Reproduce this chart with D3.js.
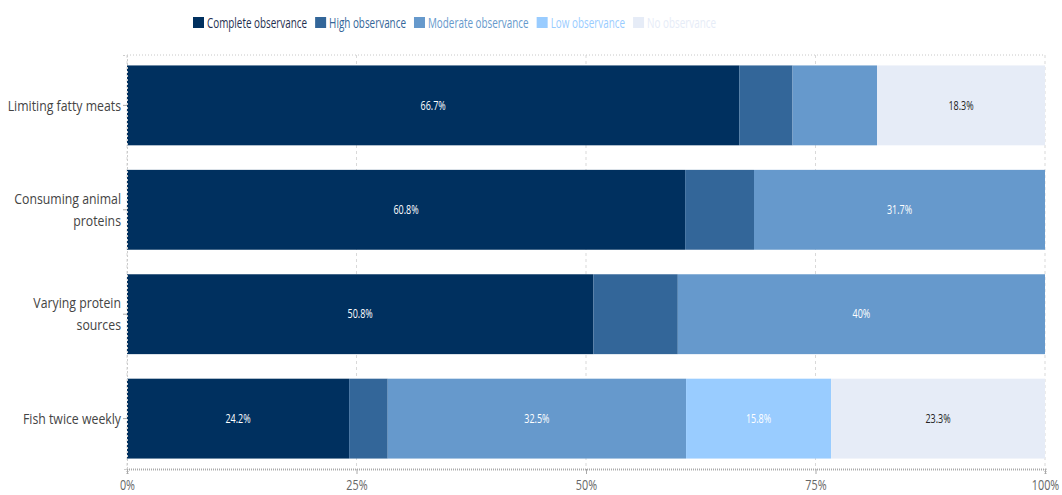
<!DOCTYPE html>
<html>
<head>
<meta charset="utf-8">
<script src="https://cdn.jsdelivr.net/npm/d3@7"></script>
<style>
  body { margin: 0; background: #fff; }
  text { font-family: "Open Sans", sans-serif; }
</style>
</head>
<body>
<div id="chart"></div>
<script>
// categories, top to bottom
var practices = ["Limiting fatty meats", "Consuming animal proteins", "Varying protein sources", "Fish twice weekly"];
var practiceLines = [["Limiting fatty meats"], ["Consuming animal", "proteins"], ["Varying protein", "sources"], ["Fish twice weekly"]];

var levels = ["Complete observance", "High observance", "Moderate observance", "Low observance", "No observance"];
var levelColors = ["#00305f", "#336699", "#6699cc", "#99ccff", "#e6ecf7"];
var labelColors = ["#fff", "#fff", "#fff", "#fff", "#222"];

// percentages per level (same order as practices)
var complete = [66.7, 60.8, 50.8, 24.2];
var high     = [5.8, 7.5, 9.2, 4.2];
var moderate = [9.2, 31.7, 40, 32.5];
var low      = [0, 0, 0, 15.8];
var none     = [18.3, 0, 0, 23.3];

var xTicks = [0, 25, 50, 75, 100];

var margin = { top: 55, right: 17, bottom: 26, left: 127 },
    width = 1062 - margin.left - margin.right,
    height = 495 - margin.top - margin.bottom;

// squeeze text horizontally around its x, the source font is a narrow one
function condense(sel, f) {
    sel.each(function () {
        var x0 = +this.getAttribute("x") || 0;
        d3.select(this).attr("transform",
            "translate(" + x0 + ",0) scale(" + f + ",1) translate(" + (-x0) + ",0)");
    });
}

var series = [complete, high, moderate, low, none];
var rows = practices.map(function (p, i) {
    var row = { name: p };
    levels.forEach(function (l, j) { row[l] = series[j][i]; });
    return row;
});
var stacked = d3.stack().keys(levels)(rows);

var svg = d3.select("#chart")
    .append("svg")
    .attr("width", 1062)
    .attr("height", 495);

var g = svg.append("g")
    .attr("transform", "translate(" + margin.left + "," + margin.top + ")");

var x = d3.scaleLinear().domain([0, 100]).range([0, width]);
var y = d3.scaleBand().domain(practices).range([0, height]).paddingInner(0.235).paddingOuter(0.1);

// gridlines
g.selectAll(".grid")
    .data(xTicks)
    .join("line")
    .attr("x1", function (d) { return x(d) })
    .attr("x2", function (d) { return x(d) })
    .attr("y1", 0)
    .attr("y2", height)
    .attr("stroke", "#d9d9d9")
    .style("stroke-dasharray", "3, 3");

// top dotted border
g.append("line")
    .attr("x1", 0).attr("x2", width)
    .attr("y1", 0).attr("y2", 0)
    .attr("stroke", "#c8c8c8")
    .style("stroke-dasharray", "1, 2");

// bars
var layer = g.selectAll(".layer")
    .data(stacked)
    .join("g")
    .attr("fill", function (d, i) { return levelColors[i] });

layer.selectAll("rect")
    .data(function (d) { return d; })
    .join("rect")
    .attr("x", function (d) { return x(d[0]) })
    .attr("y", function (d) { return y(d.data.name) })
    .attr("width", function (d) { return x(d[1]) - x(d[0]) })
    .attr("height", y.bandwidth());

// value labels
stacked.forEach(function (s, i) {
    g.selectAll(".lbl" + i)
        .data(s.filter(function (d) { return d[1] - d[0] > 10; }))
        .join("text")
        .attr("x", function (d) { return x((d[0] + d[1]) / 2) })
        .attr("y", function (d) { return y(d.data.name) + y.bandwidth() / 2 })
        .attr("dy", "0.35em")
        .attr("text-anchor", "middle")
        .attr("fill", labelColors[i])
        .style("font-size", "12px")
        .text(function (d) { return +(d[1] - d[0]).toFixed(1) + "%"; })
        .call(condense, 0.75);
});

// x axis
var xAxis = g.append("g")
    .attr("transform", "translate(0," + height + ")")
    .call(d3.axisBottom(x).tickValues(xTicks).tickSize(5).tickFormat(function (d) { return d + "%"; }));
xAxis.select(".domain").attr("stroke", "#aaa").attr("stroke-width", 2).style("stroke-dasharray", "1, 1");
xAxis.selectAll(".tick line").attr("stroke", "#aaa");
xAxis.selectAll("text")
    .attr("fill", "#666")
    .style("font-family", "'Open Sans', sans-serif")
    .style("font-size", "15px")
    .attr("dy", "0.85em")
    .call(condense, 0.72);

// y axis
var yAxis = g.append("g")
    .call(d3.axisLeft(y).tickSize(4).tickFormat(""));
yAxis.select(".domain").attr("stroke", "#ccc").style("stroke-dasharray", "2, 2");
yAxis.selectAll(".tick line").attr("stroke", "#aaa");

practices.forEach(function (p, i) {
    var lines = practiceLines[i];
    var t = g.append("text")
        .attr("x", -6)
        .attr("text-anchor", "end")
        .attr("fill", "#444")
        .style("font-size", "15px");
    lines.forEach(function (l, k) {
        t.append("tspan")
            .attr("x", -6)
            .attr("y", y(p) + y.bandwidth() / 2 - (lines.length - 1) * 11 + k * 22)
            .attr("dy", "0.35em")
            .text(l);
    });
    t.call(condense, 0.82);
});

// legend, laid out left to right
var legendScale = 0.66;
var legend = svg.append("g");
var lx = 193;
levels.forEach(function (l, i) {
    legend.append("rect")
        .attr("x", lx)
        .attr("y", 17)
        .attr("width", 11)
        .attr("height", 11)
        .attr("fill", levelColors[i]);
    var t = legend.append("text")
        .attr("x", lx + 14)
        .attr("y", 23)
        .attr("dy", "0.35em")
        .attr("fill", i === 0 ? "#1f2f4f" : levelColors[i])
        .style("font-size", "15px")
        .text(l)
        .call(condense, legendScale);
    lx += 14 + t.node().getComputedTextLength() * legendScale + 8;
});
</script>
</body>
</html>
